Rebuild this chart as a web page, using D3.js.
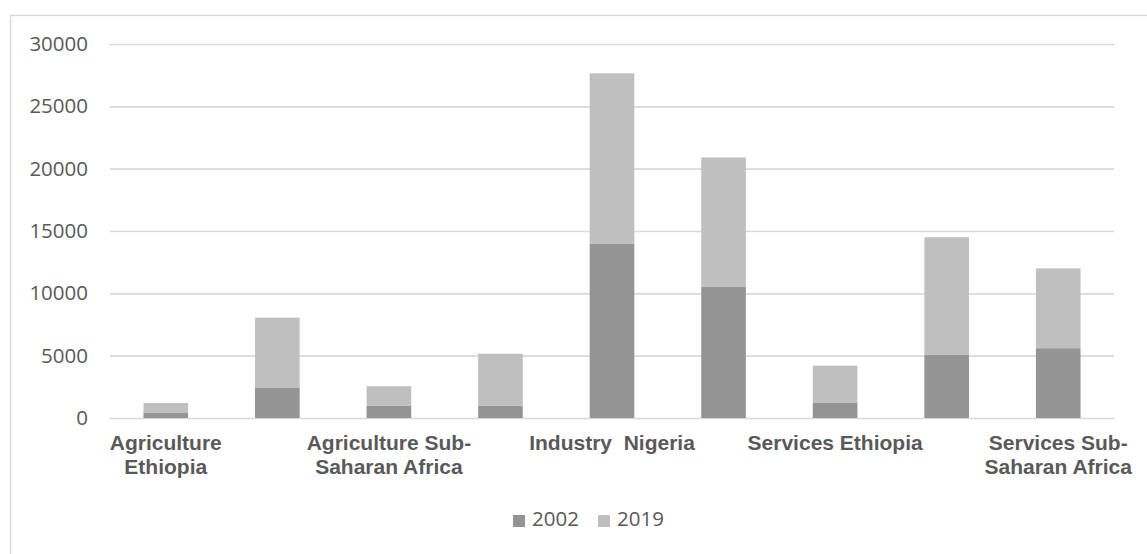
<!DOCTYPE html>
<html>
<head>
<meta charset="utf-8">
<script src="https://cdn.jsdelivr.net/npm/d3@7"></script>
<style>
  body { margin: 0; background: #fff; }
  svg text { white-space: pre; }
</style>
</head>
<body>
<div id="chart"></div>
<script>
// values
var categories = ["Agriculture Ethiopia", "Agriculture Nigeria", "Agriculture Sub-Saharan Africa",
                  "Industry Ethiopia", "Industry  Nigeria", "Industry Sub-Saharan Africa",
                  "Services Ethiopia", "Services Nigeria", "Services Sub-Saharan Africa"];
// only every second label is printed, wrapped like in the original
var labelLines = [["Agriculture", "Ethiopia"], [], ["Agriculture Sub-", "Saharan Africa"],
                  [], ["Industry  Nigeria"], [],
                  ["Services Ethiopia"], [], ["Services Sub-", "Saharan Africa"]];
var series = ["2002", "2019"];
var values2002 = [400, 2450, 1000, 1000, 14000, 10550, 1250, 5050, 5600];
var values2019 = [800, 5600, 1550, 4150, 13650, 10350, 2950, 9450, 6400];
var yTicks = [0, 5000, 10000, 15000, 20000, 25000, 30000];
var colors = ["#949494", "#bfbfbf"];

var width = 1147, height = 554;

var svg = d3.select("#chart").append("svg")
    .attr("width", width)
    .attr("height", height);

// chart border
svg.append("rect")
    .attr("x", 10.5).attr("y", 15.5)
    .attr("width", 1160).attr("height", 560)
    .attr("fill", "none")
    .attr("stroke", "#d9d9d9")
    .attr("stroke-width", 1.5);

var x = d3.scaleBand()
    .domain(categories)
    .range([110, 1114])
    .paddingInner(0.6)
    .paddingOuter(0.3);

var y = d3.scaleLinear()
    .domain([0, 30000])
    .range([418, 44]);

// gridlines + y labels
var yAxis = svg.append("g")
    .attr("transform", "translate(110,0)")
    .call(d3.axisLeft(y).tickValues(yTicks).tickSize(-1004).tickPadding(22).tickFormat(d3.format("d")));
yAxis.select(".domain").remove();
yAxis.selectAll("line").attr("stroke", "#d9d9d9").attr("stroke-width", 1.6);
yAxis.selectAll("text")
    .attr("fill", "#595959")
    .style("font-family", "'Open Sans', sans-serif")
    .style("font-size", "20.5px");

// stacked bars
var rows = categories.map(function(c, i) {
    return { cat: c, "2002": values2002[i], "2019": values2019[i] };
});
var stacked = d3.stack().keys(series)(rows);

svg.selectAll(".layer")
    .data(stacked)
    .enter().append("g")
    .attr("class", "layer")
    .attr("fill", function(d, i) { return colors[i]; })
    .selectAll("rect")
    .data(function(d) { return d; })
    .enter().append("rect")
    .attr("x", function(d) { return x(d.data.cat); })
    .attr("width", x.bandwidth())
    .attr("y", function(d) { return y(d[1]); })
    .attr("height", function(d) { return y(d[0]) - y(d[1]); });

// category labels
var xAxis = svg.append("g")
    .attr("transform", "translate(0,418)")
    .call(d3.axisBottom(x).tickSize(0).tickFormat(""));
xAxis.select(".domain").remove();

xAxis.selectAll(".tick").each(function(d, i) {
    var t = d3.select(this).append("text")
        .attr("text-anchor", "middle")
        .attr("fill", "#595959")
        .style("font-family", "'Liberation Sans', Arial, sans-serif")
        .style("font-weight", "bold")
        .style("font-size", "21px");
    labelLines[i].forEach(function(line, k) {
        t.append("tspan")
            .attr("x", 0)
            .attr("y", 32 + k * 24)
            .text(line);
    });
});

// legend
var legend = svg.append("g").attr("transform", "translate(513,515)");
var item = legend.selectAll("g")
    .data(series)
    .enter().append("g")
    .attr("transform", function(d, i) { return "translate(" + (i * 85) + ",0)"; });
item.append("rect")
    .attr("width", 12).attr("height", 12)
    .attr("fill", function(d, i) { return colors[i]; });
item.append("text")
    .attr("x", 19).attr("y", 11)
    .attr("fill", "#595959")
    .style("font-family", "'Open Sans', sans-serif")
    .style("font-size", "20.5px")
    .text(function(d) { return d; });
</script>
</body>
</html>
